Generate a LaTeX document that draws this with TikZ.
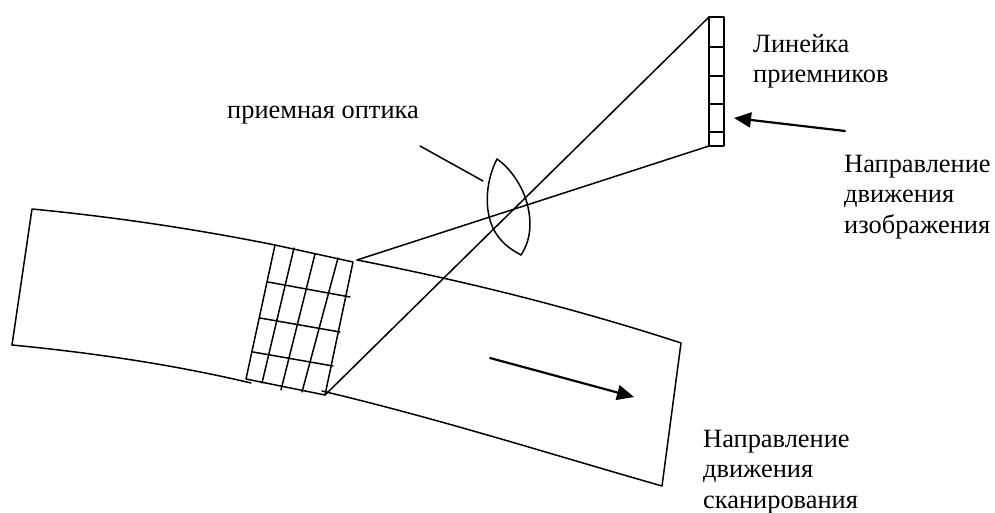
\documentclass[tikz,border=0pt]{standalone}
\usepackage{fontspec}
\setmainfont{Liberation Serif}
\usetikzlibrary{arrows.meta}
\tikzset{
  ln/.style={draw=black,line width=1.5pt,line cap=round,line join=round},
  arr/.style={ln,line width=2.2pt,-{Triangle[length=17pt,width=15pt]}},
  lbl/.style={align=left,anchor=north west,inner sep=0pt,font=\fontsize{26.4}{30.5}\selectfont}
}
\begin{document}
\begin{tikzpicture}[x=1pt,y=-1pt]
\useasboundingbox (0,0) rectangle (995,513);
% strip
\coordinate (sTL) at (32,209);
\coordinate (sBL) at (12,345);
\coordinate (gTL) at (275,245);
\coordinate (gTR) at (353,262);
\coordinate (gBL) at (246,379);
\coordinate (gBR) at (325,395);
\coordinate (gBLe) at (251,383);
\coordinate (rT) at (357,260);
\coordinate (rB) at (322,391);
\coordinate (sTR) at (681,343);
\coordinate (sBR) at (662,486);
\draw[ln] (sBL) -- (sTL) .. controls (115,217) and (195,229) .. (gTL);
\draw[ln] (sBL) .. controls (95,353) and (175,365) .. (gBLe);
\draw[ln] (rT) .. controls (470,282) and (580,310) .. (sTR) -- (sBR);
\draw[ln] (rB) .. controls (440,419) and (550,454) .. (sBR);
% grid
\draw[ln] (gTL) -- (gTR) -- (gBR) -- (gBL) -- cycle;
\coordinate (v1t) at (294,248); \coordinate (v1b) at (262,383);
\coordinate (v2t) at (315,254); \coordinate (v2b) at (281,390);
\coordinate (v3t) at (338,258); \coordinate (v3b) at (302,392);
\draw[ln] (v1t) -- (v1b);
\draw[ln] (v2t) -- (v2b);
\draw[ln] (v3t) -- (v3b);
\coordinate (h1l) at (268,282); \coordinate (h1r) at (350,297);
\coordinate (h2l) at (260,318); \coordinate (h2r) at (340,332);
\coordinate (h3l) at (253,352); \coordinate (h3r) at (333,366);
\draw[ln] (h1l) -- (h1r);
\draw[ln] (h2l) -- (h2r);
\draw[ln] (h3l) -- (h3r);
% detector
\coordinate (dT) at (709,17);
\coordinate (dB) at (709,146);
\coordinate (dTR) at (724,17);
\coordinate (dBR) at (724,146);
\draw[ln] (dT) -- (dTR) -- (dBR) -- (dB) -- cycle;
\foreach \yy/\nm in {47/a,76/b,104/c,132/d}{
  \coordinate (d\nm l) at (709,\yy);
  \coordinate (d\nm r) at (724,\yy);
  \draw[ln] (d\nm l) -- (d\nm r);
}
% rays
\draw[ln] (rT) -- (dB);
\draw[ln] (gBR) -- (dT);
% lens
\coordinate (lT) at (497,159);
\coordinate (lB) at (521,255);
\draw[ln] (lT) .. controls (485,182) and (483,215) .. (497,235) .. controls (504,245) and (512,250) .. (lB);
\draw[ln] (lT) .. controls (510,168) and (522,185) .. (527,203) .. controls (532,222) and (531,240) .. (lB);
\coordinate (pA) at (420,146);
\coordinate (pB) at (483,181);
\draw[ln] (pA) -- (pB);
% arrows
\coordinate (a1s) at (845,131);
\coordinate (a1e) at (734,118);
\draw[arr] (a1s) -- (a1e);
\coordinate (a2s) at (490,358);
\coordinate (a2e) at (634,397);
\draw[arr] (a2s) -- (a2e);
% labels
\node[lbl] (t1) at (753,34) {Линейка\\приемников};
\node[lbl] (t2) at (227,106) {приемная оптика};
\node[lbl] (t3) at (844,155) {Направление\\движения\\изображения};
\node[lbl] (t4) at (703,430) {Направление\\движения\\сканирования};
\end{tikzpicture}
\end{document}
